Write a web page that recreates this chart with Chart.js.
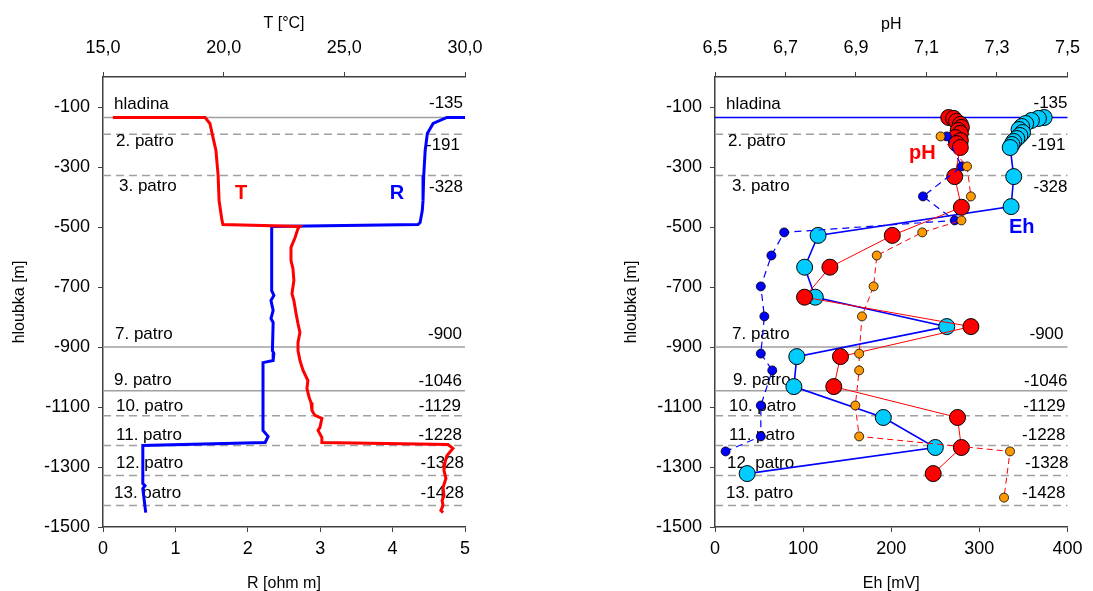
<!DOCTYPE html>
<html>
<head>
<meta charset="utf-8">
<script src="https://cdn.jsdelivr.net/npm/chart.js@4.4.0/dist/chart.umd.min.js"></script>
<style>
  html, body { margin: 0; padding: 0; background: #fff; }
  #wrap { position: relative; width: 1093px; height: 591px; overflow: hidden; }
  canvas { position: absolute; top: 0; }
  #c1 { left: 0; }
  #c2 { left: 546px; }
</style>
</head>
<body>
<div id="wrap">
  <canvas id="c1" width="546" height="591"></canvas>
  <canvas id="c2" width="547" height="591"></canvas>
</div>
<script>
// ---- Well log: temperature T [°C] vs depth [m]
const tDepth = [-135,-135,-155,-188,-245,-328,-412,-478,-492,-498,-505,-535,-568,-612,-638,-678,-722,-745,-788,-822,-852,-885,-912,-945,-978,-1012,-1038,-1068,-1085,-1112,-1128,-1138,-1168,-1178,-1202,-1218,-1225,-1238,-1262,-1285,-1312,-1338,-1368,-1395,-1412,-1428,-1445,-1452];
const tValue = [15.41,19.23,19.43,19.52,19.68,19.77,19.81,19.93,19.97,23.16,23.08,22.96,22.79,22.79,22.87,22.91,22.83,22.91,23.00,23.08,23.16,23.08,23.08,23.16,23.29,23.49,23.45,23.54,23.62,23.66,23.78,24.07,23.99,23.91,24.07,24.07,29.30,29.50,29.25,29.17,29.13,29.21,29.09,29.13,29.05,29.09,29.00,29.09];

// ---- Well log: resistivity R [ohm m] vs depth [m]
const rDepth = [-135,-135,-155,-188,-245,-328,-412,-445,-485,-492,-498,-712,-728,-745,-778,-805,-818,-912,-922,-945,-952,-1178,-1198,-1218,-1228,-1355,-1362,-1372,-1452];
const rValue = [5.00,4.75,4.56,4.48,4.45,4.43,4.42,4.41,4.38,4.35,2.33,2.33,2.36,2.32,2.35,2.32,2.35,2.34,2.36,2.35,2.21,2.21,2.28,2.24,0.55,0.55,0.58,0.55,0.59];

// ---- Probe profile: pH and Eh [mV]
const phDepth = [-135,-138,-148,-158,-168,-178,-188,-202,-212,-222,-235,-332,-434,-528,-634,-734,-832,-932,-1032,-1135,-1235,-1322];
const phValue = [7.163,7.177,7.185,7.196,7.199,7.19,7.196,7.182,7.196,7.185,7.196,7.18,7.199,7.003,6.826,6.754,7.226,6.856,6.837,7.188,7.199,7.119];
const ehDepth = [-135,-138,-145,-155,-165,-175,-185,-195,-205,-215,-225,-235,-332,-432,-528,-634,-734,-832,-932,-1032,-1135,-1235,-1322];
const ehValue = [373.5,367,359,352.5,348,345,349,346,342.5,339,337,335,339,336,117,101.7,113.8,263,92.8,89.5,191,250,36.5];

// ---- Sampled values: pH and Eh [mV]
const phLabDepth = [-198,-298,-398,-478,-518,-595,-698,-798,-922,-978,-1095,-1198,-1248,-1402];
const phLabValue = [7.14,7.215,7.226,7.199,7.088,6.959,6.95,6.917,6.909,6.909,6.898,6.909,7.337,7.32];
const ehLabDepth = [-198,-298,-398,-478,-518,-595,-698,-798,-922,-978,-1095,-1198,-1248];
const ehLabValue = [263,280,236,272,78.5,64,52,56,52,65,52,52,12];

// ---- Mine levels (water table and floors)
const levelNames  = ['hladina','2. patro','3. patro','7. patro','9. patro','10. patro','11. patro','12. patro','13. patro'];
const levelDepths = [-135,-191,-328,-900,-1046,-1129,-1228,-1328,-1428];

// ---- Tick labels
const depthTicks = [-100,-300,-500,-700,-900,-1100,-1300,-1500];
const tTicks  = [15,20,25,30];
const rTicks  = [0,1,2,3,4,5];
const phTicks = [6.5,6.7,6.9,7.1,7.3,7.5];
const ehTicks = [0,100,200,300,400];

const FONT = '"Liberation Sans", Arial, sans-serif';
Chart.defaults.font.family = FONT;
Chart.defaults.color = '#000';

const levelDashed = [false,true,true,false,false,true,true,true,true];
const nameDy  = [-13,7,11,-13,-10,-9,-10,-12,-12];
const valueDy = [-14,11,12,-13,-9,-9,-10,-12,-12];

const pts = (xs, ys) => xs.map((x, i) => ({ x: x, y: ys[i] }));
const comma1 = v => Number(v).toFixed(1).replace('.', ',');

const AXIS = '#404040';

function xScale(pos, min, max, ticks, fmt, title, height, titlePad) {
  return {
    type: 'linear', axis: 'x', position: pos, min: min, max: max,
    afterBuildTicks: s => { s.ticks = ticks.map(v => ({ value: v })); },
    afterFit: s => { s.height = height; },
    ticks: { callback: fmt, font: { size: 18 }, color: '#000',
             padding: pos === 'top' ? 13 : 6, maxRotation: 0, autoSkip: false },
    grid: { drawOnChartArea: false, drawTicks: true, tickLength: 5, color: AXIS, lineWidth: 1 },
    border: { display: true, color: AXIS, width: 1.5 },
    title: { display: true, text: title, font: { size: 16 }, color: '#000', padding: titlePad }
  };
}

function yScale(width, titlePad) {
  return {
    type: 'linear', axis: 'y', position: 'left', min: -1500, max: 0,
    afterBuildTicks: s => { s.ticks = depthTicks.map(v => ({ value: v })); },
    afterFit: s => { s.width = width; },
    ticks: { callback: v => String(v), font: { size: 18 }, color: '#000', padding: 8, autoSkip: false },
    grid: { drawOnChartArea: false, drawTicks: true, tickLength: 5, color: AXIS, lineWidth: 1 },
    border: { display: true, color: AXIS, width: 1.5 },
    title: { display: true, text: 'hloubka [m]', font: { size: 16 }, color: '#000', padding: titlePad }
  };
}

// level lines + their names and depths, drawn under the data
const levelPlugin = {
  id: 'levels',
  beforeDatasetsDraw(chart, args, o) {
    const { ctx, chartArea: a } = chart;
    const y = chart.scales.y;
    ctx.save();
    levelDepths.forEach((d, i) => {
      const py = y.getPixelForValue(d);
      ctx.beginPath();
      ctx.setLineDash(levelDashed[i] ? [8, 5] : []);
      ctx.strokeStyle = i === 0 ? o.surfaceColor : '#a0a0a0';
      ctx.lineWidth = i === 0 ? o.surfaceWidth : 1.5;
      ctx.moveTo(a.left, py);
      ctx.lineTo(a.right, py);
      ctx.stroke();
    });
    ctx.setLineDash([]);
    ctx.font = '17px ' + FONT;
    ctx.fillStyle = '#000';
    ctx.textBaseline = 'middle';
    levelNames.forEach((n, i) => {
      const py = y.getPixelForValue(levelDepths[i]);
      ctx.textAlign = 'left';
      ctx.fillText(n, a.left + o.nameX[i], py + nameDy[i]);
      ctx.textAlign = 'right';
      ctx.fillText(String(levelDepths[i]), a.right + o.valueX[i], py + valueDy[i]);
    });
    ctx.restore();
  },
  afterDatasetsDraw(chart, args, o) {
    const { ctx } = chart;
    ctx.save();
    ctx.font = 'bold 20px ' + FONT;
    ctx.textAlign = 'center';
    ctx.textBaseline = 'middle';
    o.tags.forEach(t => {
      const px = chart.scales[t.axis].getPixelForValue(t.x);
      const py = chart.scales.y.getPixelForValue(t.y);
      ctx.fillStyle = t.color;
      ctx.fillText(t.text, px, py);
    });
    ctx.restore();
  }
};

// ---------- left panel: T and R ----------
new Chart(document.getElementById('c1'), {
  type: 'scatter',
  data: {
    datasets: [
      { label: 'T', data: pts(tValue, tDepth), xAxisID: 'xT', yAxisID: 'y', showLine: true,
        borderColor: '#ff0000', borderWidth: 3, pointRadius: 0, tension: 0 },
      { label: 'R', data: pts(rValue, rDepth), xAxisID: 'xR', yAxisID: 'y', showLine: true,
        borderColor: '#0000ff', borderWidth: 3, pointRadius: 0, tension: 0 }
    ]
  },
  options: {
    responsive: false, animation: false, devicePixelRatio: 1,
    layout: { padding: { left: 0, right: 81, top: 0, bottom: 0 } },
    plugins: {
      legend: { display: false }, tooltip: { enabled: false },
      levels: {
        surfaceColor: '#a0a0a0', surfaceWidth: 1.5,
        nameX: [11,13,16,12,11,13,13,13,11],
        valueX: [-2,-5,-2,-3,-3,-4,-3,-1,-1],
        tags: [
          { text: 'T', axis: 'xT', x: 20.72, y: -388, color: '#ff0000' },
          { text: 'R', axis: 'xR', x: 4.06, y: -388, color: '#0000ff' }
        ]
      }
    },
    scales: {
      xT: xScale('top', 15, 30, tTicks, comma1, 'T [°C]', 77, { top: 14, bottom: 0 }),
      xR: xScale('bottom', 0, 5, rTicks, v => String(v), 'R [ohm m]', 64, { top: 0, bottom: -2 }),
      y: yScale(103, { top: 10, bottom: 0 })
    }
  },
  plugins: [levelPlugin]
});

// ---------- right panel: pH and Eh ----------
const bigPoint = (fill) => ({ pointRadius: 8, pointBackgroundColor: fill, pointBorderColor: '#000', pointBorderWidth: 1 });
const smallPoint = (fill) => ({ pointRadius: 4.5, pointBackgroundColor: fill, pointBorderColor: '#000', pointBorderWidth: 0.8 });

new Chart(document.getElementById('c2'), {
  type: 'scatter',
  data: {
    datasets: [
      Object.assign({ label: 'pH vzorky', data: pts(phLabValue, phLabDepth), xAxisID: 'xPH', yAxisID: 'y',
        showLine: true, borderColor: '#ff0000', borderWidth: 1, borderDash: [6, 4], order: 0 }, smallPoint('#ff9900')),
      Object.assign({ label: 'Eh vzorky', data: pts(ehLabValue, ehLabDepth), xAxisID: 'xEH', yAxisID: 'y',
        showLine: true, borderColor: '#0000ff', borderWidth: 1.2, borderDash: [7, 5], order: 1 }, smallPoint('#0000ff')),
      Object.assign({ label: 'pH', data: pts(phValue, phDepth), xAxisID: 'xPH', yAxisID: 'y',
        showLine: true, borderColor: '#ff0000', borderWidth: 1, order: 2 }, bigPoint('#ff0000')),
      Object.assign({ label: 'Eh', data: pts(ehValue, ehDepth), xAxisID: 'xEH', yAxisID: 'y',
        showLine: true, borderColor: '#0000ff', borderWidth: 1.6, order: 3 }, bigPoint('#00ccff'))
    ]
  },
  options: {
    responsive: false, animation: false, devicePixelRatio: 1,
    layout: { padding: { left: 0, right: 16, top: 0, bottom: 0 } },
    plugins: {
      legend: { display: false }, tooltip: { enabled: false },
      levels: {
        surfaceColor: '#0000ff', surfaceWidth: 1.6,
        nameX: [11,13,17,17,18,14,14,12,11],
        valueX: [0,-2,0,-4,0,-2,-2,1,-2],
        tags: [
          { text: 'pH', axis: 'xPH', x: 7.088, y: -255, color: '#ff0000' },
          { text: 'Eh', axis: 'xEH', x: 348, y: -502, color: '#0000ff' }
        ]
      }
    },
    scales: {
      xPH: xScale('top', 6.5, 7.5, phTicks, comma1, 'pH', 77, { top: 15, bottom: 0 }),
      xEH: xScale('bottom', 0, 400, ehTicks, v => String(v), 'Eh [mV]', 64, { top: 0, bottom: -2 }),
      y: yScale(169, { top: 76, bottom: 0 })
    }
  },
  plugins: [levelPlugin]
});
</script>
</body>
</html>
